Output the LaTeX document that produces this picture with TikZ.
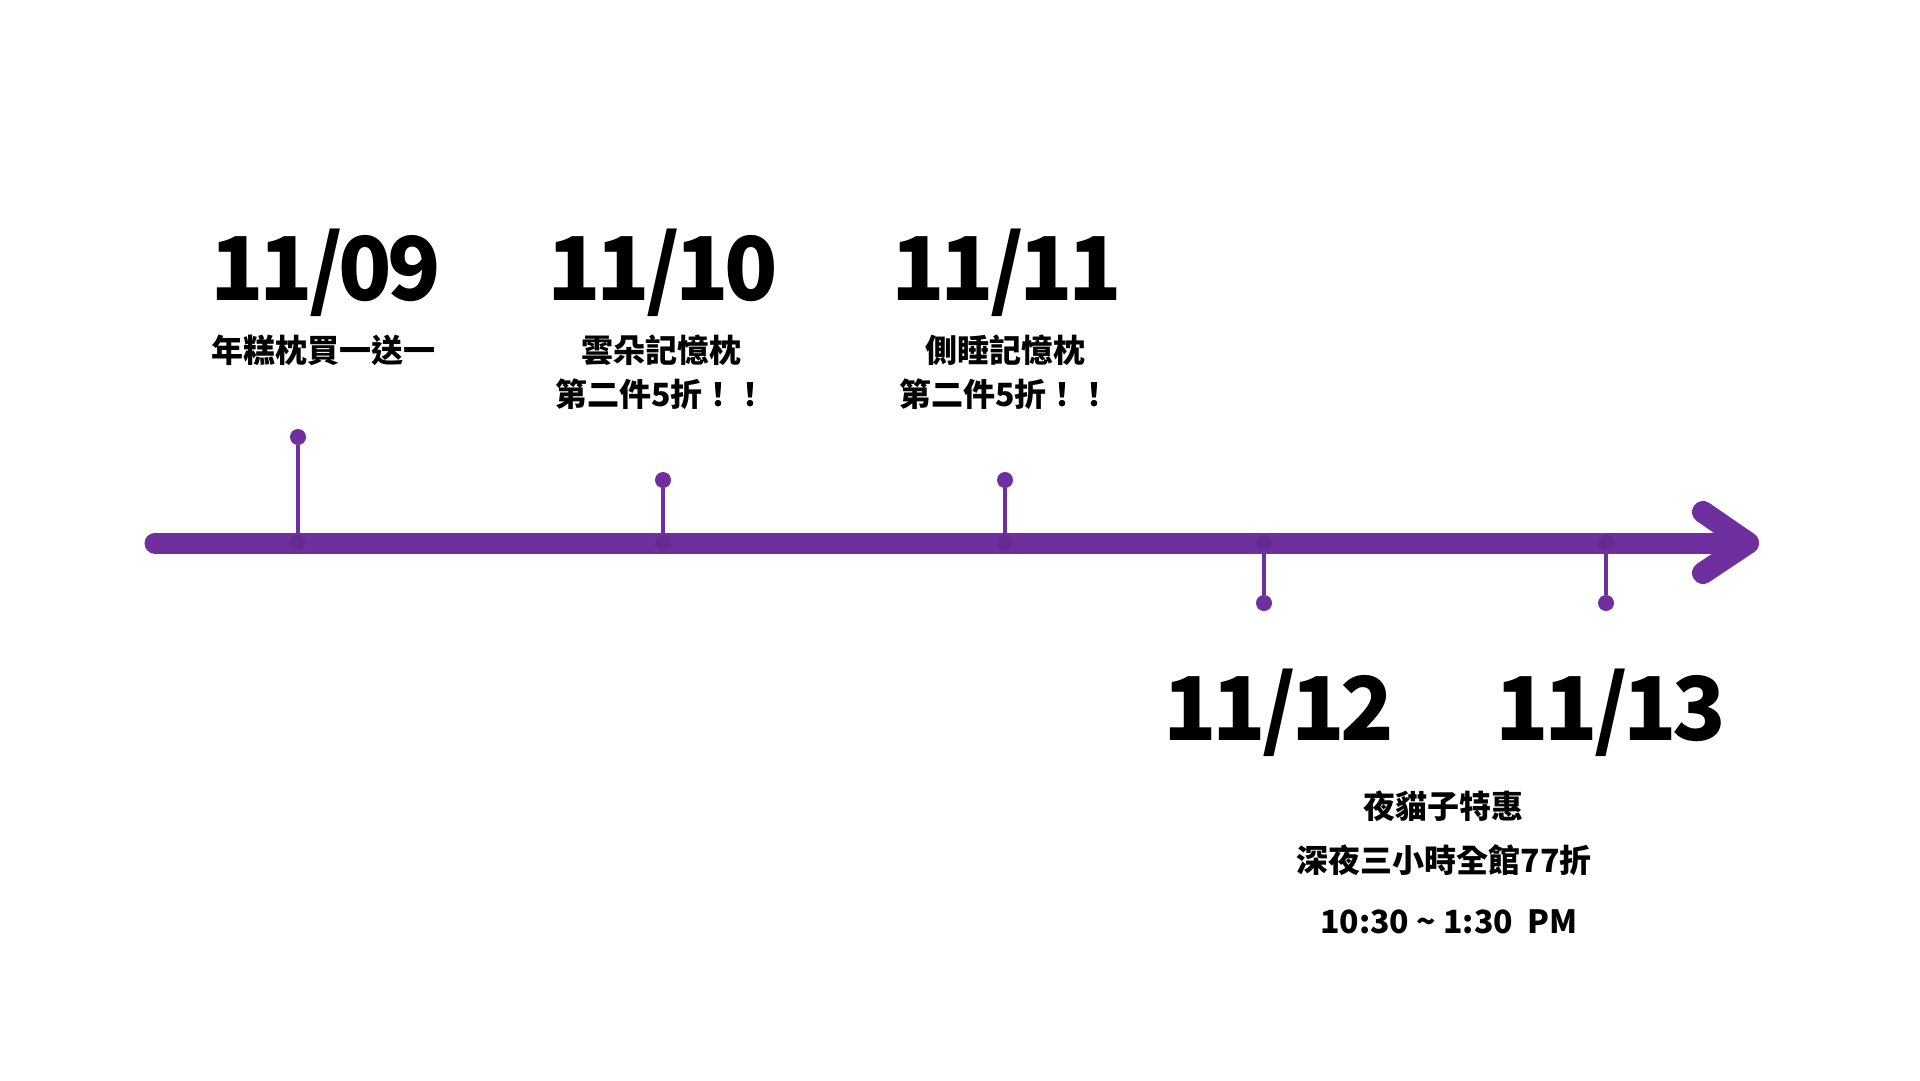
\documentclass[tikz,border=0pt]{standalone}
\usepackage{fontspec}
\newfontfamily\cjk{Noto Sans CJK TC}
\newfontfamily\cjkdate{Noto Sans CJK TC}[LetterSpace=-5]
\definecolor{grape}{RGB}{111,47,159}
\begin{document}
\begin{tikzpicture}[x=1pt,y=-1pt,
  dot/.style={circle,fill=grape,inner sep=0pt,minimum size=16pt},
  foot/.style={circle,fill=black,opacity=0.08,inner sep=0pt,minimum size=16pt},
  stem/.style={draw=grape,line width=4pt},
  date/.style={anchor=base,inner sep=0pt,font=\cjkdate\bfseries\fontsize{88}{88}\selectfont},
  note/.style={anchor=base,inner sep=0pt,font=\cjk\bfseries\fontsize{32}{32}\selectfont}]
\path[fill=white] (0,0) rectangle (1920,1080);
\useasboundingbox (0,0) rectangle (1920,1080);

\coordinate (start) at (155,543);
\coordinate (tip) at (1748,543);
\coordinate (up) at (1703,512);
\coordinate (down) at (1703,573);
\path[draw=grape,line width=21pt,line cap=round] (start) -- (tip);
\path[draw=grape,line width=22pt,line cap=round,line join=round] (up) -- (tip) -- (down);

\node[dot] (1) at (298,437) {};
\node[dot] (2) at (663,480) {};
\node[dot] (3) at (1005,480) {};
\node[dot] (4) at (1264,603) {};
\node[dot] (5) at (1606,603) {};
\node[foot] (f1) at (298,543) {};
\node[foot] (f2) at (663,543) {};
\node[foot] (f3) at (1005,543) {};
\node[foot] (f4) at (1264,543) {};
\node[foot] (f5) at (1606,543) {};

\path[stem] (1) -- (f1);
\path[stem] (2) -- (f2);
\path[stem] (3) -- (f3);
\path[stem] (4) -- (f4);
\path[stem] (5) -- (f5);

\node[date] (t1) at (326,300) {11/09};
\node[date] (t2) at (663,300) {11/10};
\node[date] (t3) at (1007,300) {11/11};
\node[date] (t4) at (1279,740) {11/12};
\node[date] (t5) at (1611,740) {11/13};

\node[note] (n1) at (323,362) {年糕枕買一送一};
\node[note] (n2) at (661,362) {雲朵記憶枕};
\node[note] (n2b) at (661,406) {第二件5折！！};
\node[note] (n3) at (1005,362) {側睡記憶枕};
\node[note] (n3b) at (1005,406) {第二件5折！！};
\node[note] (n4) at (1443,818) {夜貓子特惠};
\node[note] (n4b) at (1444,872) {深夜三小時全館77折};
\node[note] (n4c) at (1449,933) {10:30 \textasciitilde{} 1:30\ \ PM};
\end{tikzpicture}
\end{document}
